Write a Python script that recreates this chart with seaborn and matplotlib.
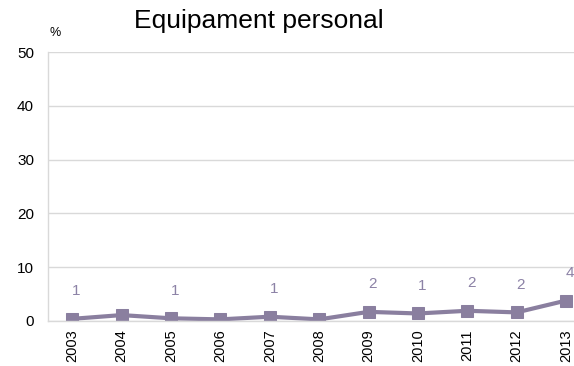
import matplotlib
matplotlib.use("Agg")
import matplotlib.pyplot as plt
import seaborn as sns
import pandas as pd

years = ["2003", "2004", "2005", "2006", "2007", "2008", "2009", "2010", "2011", "2012", "2013"]
values = [0.4, 1.1, 0.5, 0.3, 0.8, 0.3, 1.7, 1.4, 1.9, 1.6, 3.8]
labels = ["1", "", "1", "", "1", "", "2", "1", "2", "2", "4"]
yticks = [0, 10, 20, 30, 40, 50]

sns.set_style("white")
plt.rcParams['font.family'] = ['Liberation Sans', 'DejaVu Sans']
plt.rcParams['text.color'] = 'black'
plt.rcParams['xtick.color'] = 'black'
plt.rcParams['ytick.color'] = 'black'

line_color = "#8a7f9f"
label_color = "#8c82a6"
grid_color = "#d9d9d9"

fig = plt.figure(figsize=(5.74, 3.66), dpi=100)
ax = fig.add_axes([48/574, 1-321/366, 1-48/574, (321-52)/366])

df = pd.DataFrame({"year": years, "value": values})
sns.lineplot(data=df, x="year", y="value", ax=ax, color=line_color, linewidth=3,
             marker="s", markersize=8, markeredgecolor=line_color, sort=False)

for i, (v, t) in enumerate(zip(values, labels)):
    if t:
        ax.annotate(t, (i, v), xytext=(3, 20), textcoords="offset points",
                    ha="center", va="center", fontsize=11, color=label_color)

ax.set_ylim(0, 50)
ax.set_xlim(-0.49, 10.16)
ax.set_yticks(yticks)
ax.set_yticklabels([str(t) for t in yticks], fontsize=11, color="black")
ax.set_xticks(range(len(years)))
ax.set_xticklabels(years, rotation=90, fontsize=10.5, color="black")
ax.set_xlabel("")
ax.set_ylabel("")
ax.yaxis.grid(True, color=grid_color, linewidth=1)
ax.set_axisbelow(True)
for s in ["top", "right"]:
    ax.spines[s].set_visible(False)
for s in ["left", "bottom"]:
    ax.spines[s].set_color(grid_color)
    ax.spines[s].set_linewidth(1)
ax.tick_params(axis="x", length=4, color=grid_color, labelcolor="black", pad=2)
ax.tick_params(axis="y", length=0, labelcolor="black", pad=10)

fig.text(259/574, 1-21/366, "Equipament personal", ha="center", va="center", fontsize=19, color="black")
fig.text(55/574, 1-33/366, "%", ha="center", va="center", fontsize=9, color="black")

fig.savefig("out.png", dpi=100)
